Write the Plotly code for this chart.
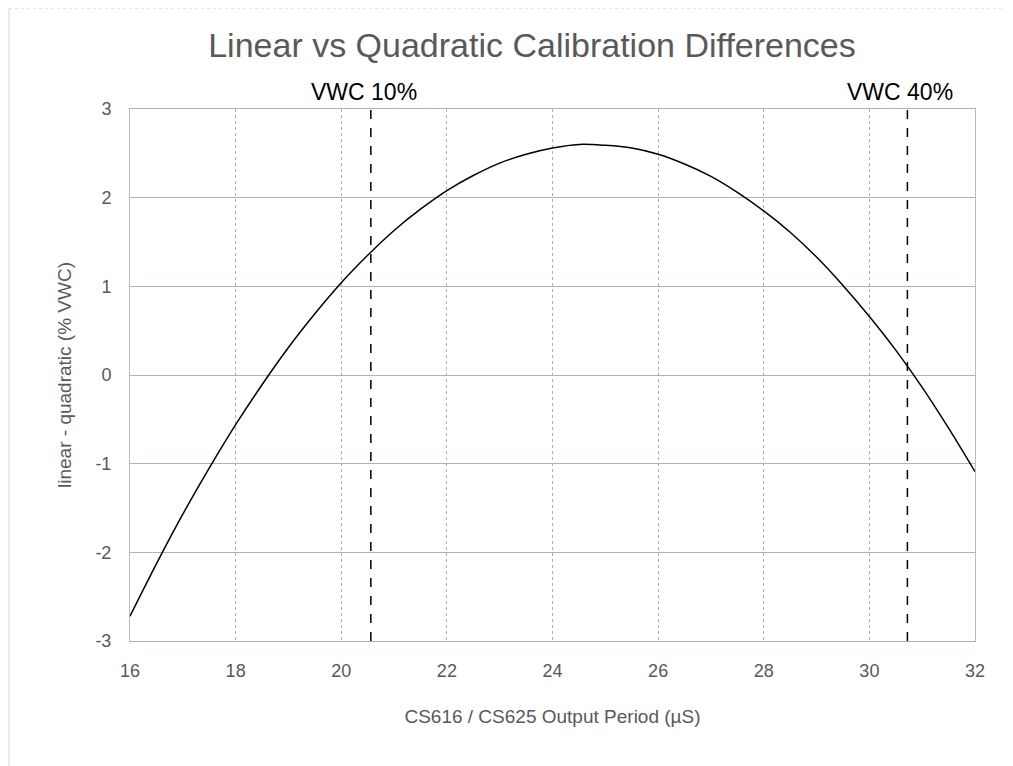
import plotly.graph_objects as go

# Data
period_us = [16, 16.5, 17, 17.5, 18, 18.5, 19, 19.5, 20, 20.5, 21, 21.5, 22, 22.5, 23, 23.5,
             24, 24.5, 25, 25.5, 26, 26.5, 27, 27.5, 28, 28.5, 29, 29.5, 30, 30.5, 31, 31.5, 32]
diff_vwc = [-2.72, -2.13, -1.57, -1.05, -0.56, -0.11, 0.31, 0.69, 1.04, 1.35, 1.63, 1.87, 2.08,
            2.25, 2.39, 2.49, 2.56, 2.60, 2.59, 2.56, 2.49, 2.38, 2.24, 2.06, 1.85, 1.61, 1.33,
            1.01, 0.66, 0.28, -0.14, -0.60, -1.09]
vwc_marker_x = [20.56, 30.72]
vwc_marker_labels = ["VWC 10%", "VWC 40%"]
x_ticks = [16, 18, 20, 22, 24, 26, 28, 30, 32]
y_ticks = [-3, -2, -1, 0, 1, 2, 3]
y_tick_labels = ["-3", "-2", "-1", "0", "1", "2", "3"]

# page body has an 8px margin; size the figure so the plot area lands where the reference has it
OFF = 8
W, H = 1013 - OFF, 766 - OFF
L, R, T, B = 129.5 - OFF, 38, 109 - OFF, 125
pw, ph = W - L - R, H - T - B

fig = go.Figure()
fig.add_trace(go.Scatter(x=period_us, y=diff_vwc, mode="lines",
                         line=dict(color="black", width=1.5, shape="spline"),
                         showlegend=False, hoverinfo="x+y"))

for xv, lab in zip(vwc_marker_x, vwc_marker_labels):
    fig.add_trace(go.Scatter(x=[xv, xv], y=[y_ticks[0], y_ticks[-1]], mode="lines",
                             line=dict(color="black", width=1.5, dash="dash"),
                             showlegend=False, hoverinfo="skip"))
    fig.add_annotation(x=xv, y=1, xref="x", yref="paper", text=lab, showarrow=False,
                       yanchor="bottom", xanchor="center", xshift=-7, yshift=2,
                       font=dict(family="Liberation Sans, Arial, sans-serif", size=23, color="black"))

# outer chart border (left and top edges)
fig.add_shape(type="line", xref="paper", yref="paper",
              x0=(0.5 - L) / pw, x1=(0.5 - L) / pw, y0=-(B + 5) / ph, y1=1 + (T - 0.5) / ph,
              line=dict(color="#d9d9d9", width=1))
fig.add_shape(type="line", xref="paper", yref="paper",
              x0=(0.5 - L) / pw, x1=(W + 5 - L) / pw, y0=1 + (T - 0.5) / ph, y1=1 + (T - 0.5) / ph,
              line=dict(color="#e6e6e6", width=1, dash="dot"))

font_main = "Liberation Sans, Arial, sans-serif"
fig.update_layout(
    width=W, height=H,
    margin=dict(l=L, r=R, t=T, b=B, autoexpand=False),
    paper_bgcolor="white", plot_bgcolor="white",
    title=dict(text="Linear vs Quadratic Calibration Differences", x=(532 - OFF) / W, xanchor="center",
               y=1 - (45 - OFF) / H, yanchor="middle",
               font=dict(family=font_main, size=34, color="#595959")),
    font=dict(family=font_main, color="#595959"),
    xaxis=dict(range=[16, 32], tickvals=x_ticks, ticks="", showgrid=True, gridcolor="#b9a9b9",
               griddash="dot", gridwidth=1, zeroline=False,
               showline=True, mirror=True, linecolor="#a9b8a9", linewidth=1.2,
               tickfont=dict(size=18, color="#595959"), ticklabelstandoff=13,
               title=dict(text="CS616 / CS625 Output Period (µS)", font=dict(size=19, color="#595959"),
                          standoff=29)),
    yaxis=dict(range=[-3, 3], tickvals=y_ticks, ticktext=y_tick_labels, ticks="", showgrid=True,
               gridcolor="#a9b8a9", gridwidth=1.2, zeroline=False,
               showline=True, mirror=True, linecolor="#c4b8c4", linewidth=1,
               tickfont=dict(size=18, color="#595959"), ticklabelstandoff=14,
               title=dict(text="linear - quadratic (% VWC)", font=dict(size=19, color="#595959"),
                          standoff=18)),
)

fig.write_html("out.html")
